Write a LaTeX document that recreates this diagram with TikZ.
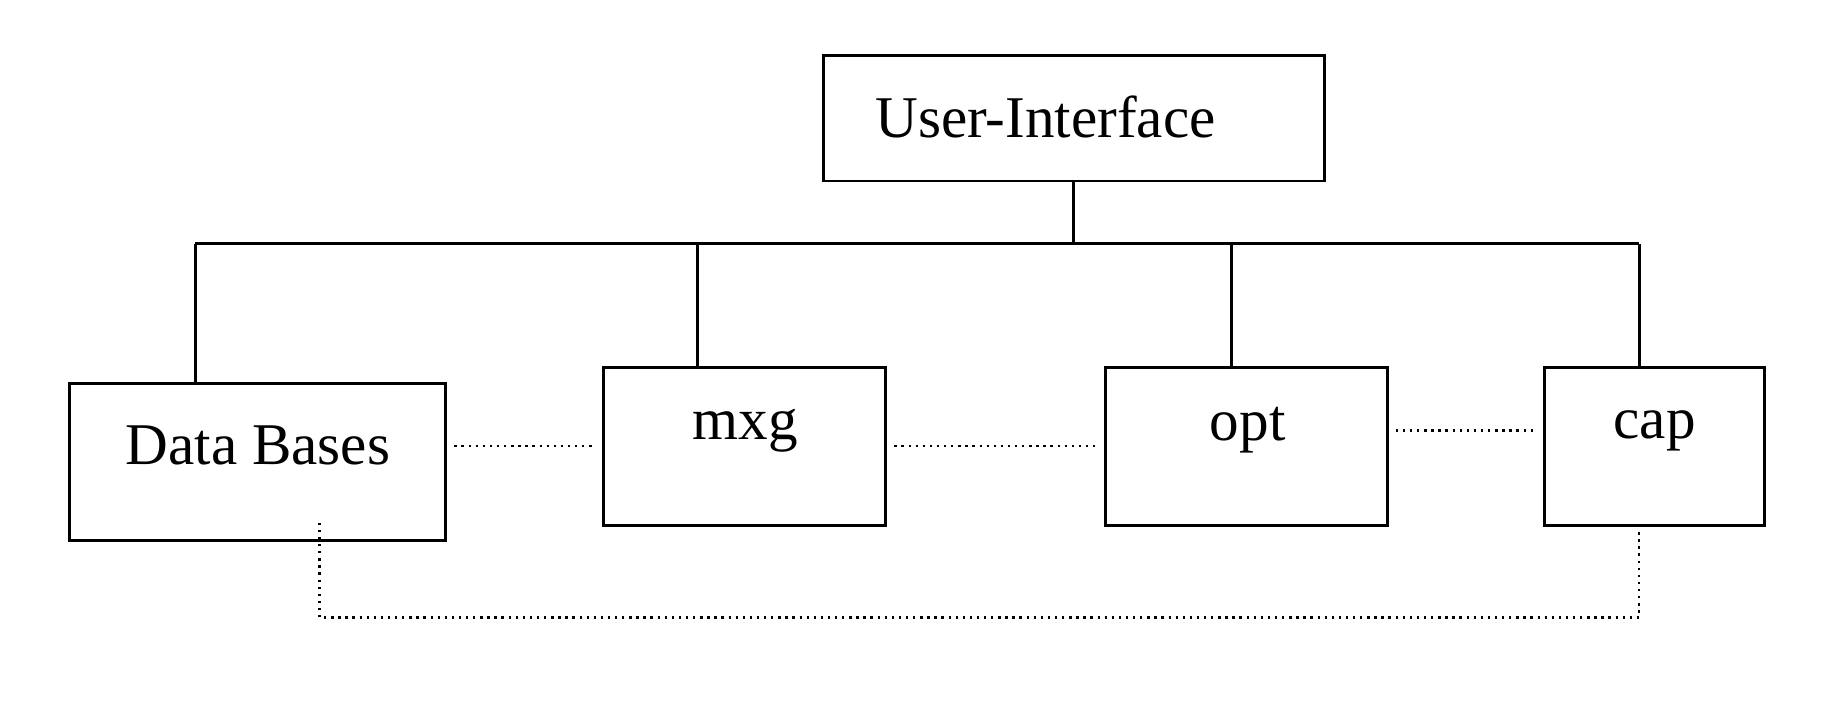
\documentclass[tikz,border=0pt]{standalone}
\usepackage{fontspec}
\setmainfont{Liberation Serif}
\usepackage{tikz}

\begin{document}
\begin{tikzpicture}[x=0.5pt,y=-0.5pt,
    box/.style={draw, line width=1.2pt, inner sep=0pt},
    lbl/.style={inner sep=0pt, font=\fontsize{25}{30}\selectfont},
    bus/.style={line width=1.2pt},
    link/.style={line width=1pt, dotted}]
    \useasboundingbox (0,0) rectangle (1560,598);

    % Boxes
    \node [box, minimum width=212pt, minimum height=53pt] (ui) at (908,100) {};
    \node [box, minimum width=159pt, minimum height=66.5pt] (db) at (218,390.5) {};
    \node [box, minimum width=119.5pt, minimum height=66.5pt] (mxg) at (629.5,377.5) {};
    \node [box, minimum width=119pt, minimum height=66.5pt] (opt) at (1054,377.5) {};
    \node [box, minimum width=93pt, minimum height=66.5pt] (cap) at (1399,377.5) {};

    % Text Node
    \node [lbl] (tui) at (884,99) {User-Interface};
    \node [lbl] (tdb) at (218,377) {Data Bases};
    \node [lbl] (tmxg) at (630,364) {mxg};
    \node [lbl] (topt) at (1055,364) {opt};
    \node [lbl] (tcap) at (1399,364) {cap};

    % Bus
    \coordinate (j0) at (908,206);
    \coordinate (j1) at (165,206);
    \coordinate (j2) at (590,206);
    \coordinate (j3) at (1041,206);
    \coordinate (j4) at (1386,206);
    \draw [bus] (ui.south) -- (j0);
    \draw [bus] (j1) -- (j4);
    \draw [bus] (j1) -- (j1 |- db.north);
    \draw [bus] (j2) -- (j2 |- mxg.north);
    \draw [bus] (j3) -- (j3 |- opt.north);
    \draw [bus] (j4) -- (j4 |- cap.north);

    % Dotted links
    \coordinate (d1) at (270,442);
    \coordinate (d2) at (1386,450);
    \draw [link] ([xshift=3pt]db.east |- 0,377) -- ([xshift=-3pt]mxg.west |- 0,377);
    \draw [link] ([xshift=3pt]mxg.east |- 0,377) -- ([xshift=-3pt]opt.west |- 0,377);
    \draw [link] ([xshift=3pt]opt.east |- 0,364) -- ([xshift=-3pt]cap.west |- 0,364);
    \draw [link] (d1) -- (270,522) -- (1386,522) -- (d2);
\end{tikzpicture}
\end{document}
